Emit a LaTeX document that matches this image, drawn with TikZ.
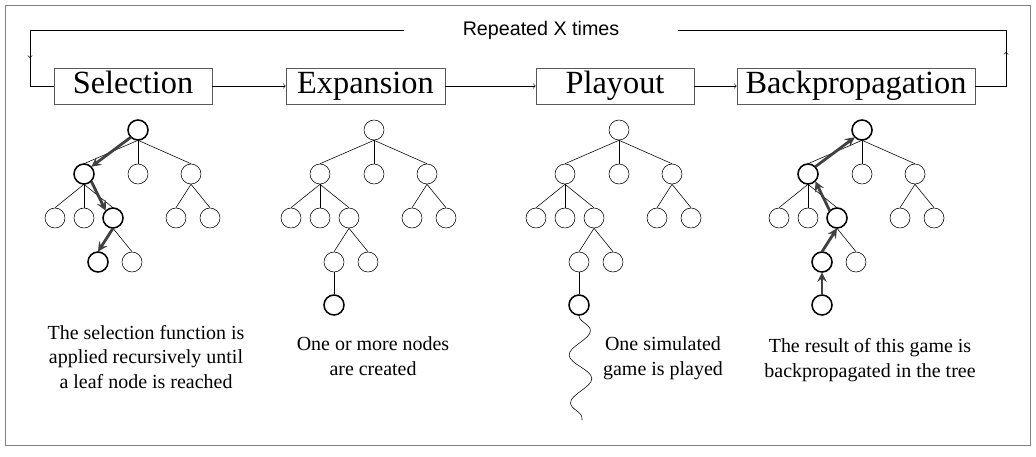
\documentclass[tikz,border=0pt]{standalone}
\usepackage{fontspec}
\setmainfont{Liberation Serif}
\newfontfamily\headfont{Liberation Sans}
\usetikzlibrary{arrows, positioning, decorations.pathmorphing}

\tikzset{
	stage/.style={draw, gray!70!black, text=black, minimum height=36*0.025cm, inner sep=0pt, text height=15pt, text depth=4.5pt, font=\fontsize{23}{24}\selectfont},
	vertex/.style={circle, draw, minimum size=20*0.025cm, inner sep=0pt},
	hot/.style={vertex, line width=1.1pt},
	walk/.style={->, >=stealth, line width=2pt, black!75},
	flow/.style={->, >=to},
	caption/.style={align=center, font=\fontsize{14.2}{17.7}\selectfont}
}

% one tree, placed by its prefix and x offset
\newcommand{\mctree}[2]{
	\begin{scope}[xshift=#2*0.025cm]
		\node[vertex] (#1r) at (138,130) {};
		\node[vertex] (#1a) at (84,174) {};
		\node[vertex] (#1b) at (138,174) {};
		\node[vertex] (#1c) at (191,174) {};
		\node[vertex] (#1d) at (55,218) {};
		\node[vertex] (#1e) at (84,218) {};
		\node[vertex] (#1f) at (113,218) {};
		\node[vertex] (#1g) at (176,218) {};
		\node[vertex] (#1h) at (210,218) {};
		\node[vertex] (#1i) at (98,262) {};
		\node[vertex] (#1j) at (132,262) {};
		\foreach \p/\c in {r/a, r/b, r/c, a/d, a/e, a/f, c/g, c/h, f/i, f/j}
			\draw (#1\p.south) -- (#1\c.north);
	\end{scope}
}

\begin{document}
\begin{tikzpicture}[x=0.025cm, y=-0.025cm]
	\useasboundingbox (0,0) rectangle (1036,456);
	\draw[gray] (5,5) rectangle (1030,445);

	\node[stage, minimum width=158*0.025cm] (sel) at (133,86) {Selection};
	\node[stage, minimum width=159*0.025cm] (exp) at (365.5,86) {Expansion};
	\node[stage, minimum width=158*0.025cm] (play) at (615,86) {Playout};
	\node[stage, minimum width=238*0.025cm] (back) at (856,86) {Backpropagation};
	\node[font=\headfont\fontsize{14}{16}\selectfont, inner xsep=58*0.025cm] (rep) at (541,30) {Repeated X times};

	\draw[flow] (sel) -- (exp);
	\draw[flow] (exp) -- (play);
	\draw[flow] (play) -- (back);
	\coordinate (tl) at (30,30);
	\coordinate (tr) at (1006,30);
	\draw (rep.west) -- (tl) |- (sel.west);
	\draw[flow] (tl) -- (30,58);
	\draw (back.east) -| (tr) -- (rep.east);
	\draw[flow] (1006,86) -- (1006,52);

	% --- four stages ---
	\mctree{s}{0}
	\mctree{e}{236}
	\mctree{p}{481}
	\mctree{b}{724}

	% selection
	\node[hot] at (sr) {};
	\node[hot] at (sa) {};
	\node[hot] at (sf) {};
	\node[hot] at (si) {};
	\draw[walk] (sr.south west) -- (sa.north east);
	\draw[walk] (sa.south east) -- (sf.north west);
	\draw[walk] (sf.south) -- (si.north);

	% expansion
	\node[hot] (en) at (334,305) {};
	\draw (ei) -- (en);

	% playout
	\node[hot] (pn) at (579,305) {};
	\draw (pi) -- (pn);
	\coordinate (pend) at (582,420);
	\draw[decorate, decoration={snake, segment length=48*0.025cm, amplitude=11*0.025cm}] (pn.south) -- (pend);

	% backpropagation
	\node[hot] at (br) {};
	\node[hot] at (ba) {};
	\node[hot] at (bf) {};
	\node[hot] at (bi) {};
	\node[hot] (bn) at (822,305) {};
	\draw[walk] (bn) -- (bi);
	\draw[walk] (bi.north) -- (bf.south);
	\draw[walk] (bf.north west) -- (ba.south east);
	\draw[walk] (ba.north east) -- (br.south west);

	\node[caption] (tsel) at (146,357) {The selection function is\\applied recursively until\\a leaf node is reached};
	\node[caption] (texp) at (373,356) {One or more nodes\\are created};
	\node[caption] (tplay) at (663,358) {One simulated\\game is played};
	\node[caption] (tback) at (870,360) {The result of this game is\\backpropagated in the tree};
\end{tikzpicture}
\end{document}
